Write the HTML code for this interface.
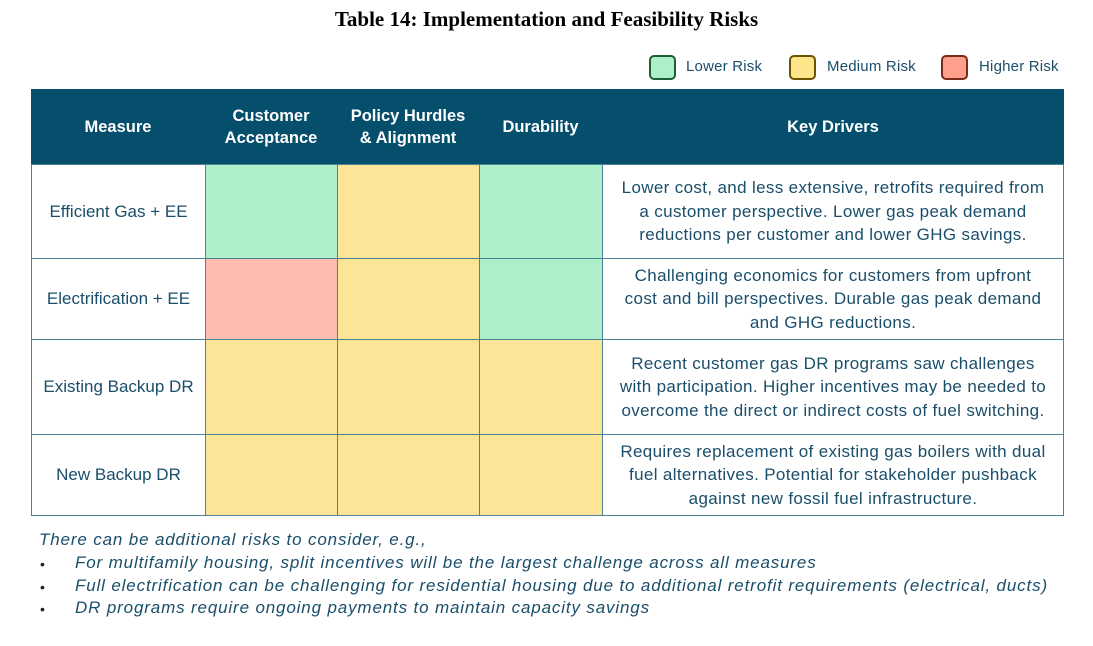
<!DOCTYPE html>
<html><head><meta charset="utf-8"><style>
body{margin:0;width:1093px;height:646px;background:#fff;position:relative;overflow:hidden;font-family:"Liberation Sans",sans-serif;}
.abs{position:absolute;}
#title{left:0;width:1093px;top:7px;text-align:center;font:bold 21px "Liberation Serif",serif;color:#000;}
.lg-box{width:23px;height:21px;border:2px solid;border-radius:5px;top:55px;}
.lg-txt{top:58px;font-size:15px;color:#1a4e6a;white-space:nowrap;letter-spacing:0.2px;}
.hdr{background:#054e6c;color:#fff;font-weight:bold;font-size:16.5px;display:flex;align-items:center;justify-content:center;text-align:center;line-height:22px;}
.cell{border:1px solid #4d8296;box-sizing:border-box;display:flex;align-items:center;justify-content:center;text-align:center;color:#1a4e6a;font-size:17px;line-height:23.5px;white-space:nowrap;}
.drv{letter-spacing:0.35px;}
.note{font-style:italic;font-size:17px;color:#1a4e6a;white-space:nowrap;letter-spacing:0.85px;}
.bul{font-size:14px;color:#222;}
</style></head><body>
<div id="title" class="abs">Table 14: Implementation and Feasibility Risks</div>

<div class="abs lg-box" style="left:649px;background:#acefc8;border-color:#1d5e34"></div>
<div class="abs lg-txt" style="left:686px">Lower Risk</div>
<div class="abs lg-box" style="left:789px;background:#fde58a;border-color:#6b5400"></div>
<div class="abs lg-txt" style="left:827px">Medium Risk</div>
<div class="abs lg-box" style="left:941px;background:#fca08c;border-color:#7a2a1a"></div>
<div class="abs lg-txt" style="left:979px">Higher Risk</div>

<div id="table" class="abs" style="left:0;top:0"></div>

<div class="abs note" style="left:39px;top:530px">There can be additional risks to consider, e.g.,</div>
<div class="abs bul" style="left:40px;top:556px">•</div>
<div class="abs note" style="left:75px;top:553px">For multifamily housing, split incentives will be the largest challenge across all measures</div>
<div class="abs bul" style="left:40px;top:579px">•</div>
<div class="abs note" style="left:75px;top:576px">Full electrification can be challenging for residential housing due to additional retrofit requirements (electrical, ducts)</div>
<div class="abs bul" style="left:40px;top:601px">•</div>
<div class="abs note" style="left:75px;top:598px">DR programs require ongoing payments to maintain capacity savings</div>

<script>
const headers=["Measure","Customer<br>Acceptance","Policy Hurdles<br>&amp; Alignment","Durability","Key Drivers"];
const measures=["Efficient Gas + EE","Electrification + EE","Existing Backup DR","New Backup DR"];
const acceptance=["low","high","medium","medium"];
const policy=["medium","medium","medium","medium"];
const durability=["low","low","medium","medium"];
const drivers=[
"Lower cost, and less extensive, retrofits required from<br>a customer perspective. Lower gas peak demand<br>reductions per customer and lower GHG savings.",
"Challenging economics for customers from upfront<br>cost and bill perspectives. Durable gas peak demand<br>and GHG reductions.",
"Recent customer gas DR programs saw challenges<br>with participation. Higher incentives may be needed to<br>overcome the direct or indirect costs of fuel switching.",
"Requires replacement of existing gas boilers with dual<br>fuel alternatives. Potential for stakeholder pushback<br>against new fossil fuel infrastructure."];
const colX=[31,205,337,479,602,1064];
const rowY=[89,164,258,339,434,515];
const riskColor={low:"#acefc8",medium:"#fde597",high:"#fcbdb0"};
const t=document.getElementById('table');
function box(x,y,w,h,cls,html,bg){const d=document.createElement('div');d.className='abs '+cls;d.style.left=x+'px';d.style.top=y+'px';d.style.width=w+'px';d.style.height=h+'px';if(bg)d.style.background=bg;d.innerHTML=html;t.appendChild(d);return d;}
headers.forEach((h,i)=>{const d=box(colX[i],rowY[0],colX[i+1]-colX[i],rowY[1]-rowY[0],'hdr',h);

});
const riskCols=[acceptance,policy,durability];
measures.forEach((m,r)=>{const y=rowY[r+1],h=rowY[r+2]-y+1;
const mc=box(colX[0],y,colX[1]-colX[0]+1,h,'cell',m);


riskCols.forEach((arr,c)=>{const rc=box(colX[c+1],y,colX[c+2]-colX[c+1]+1,h,'cell','',riskColor[arr[r]]);

});
const dc=box(colX[4],y,colX[5]-colX[4],h,'cell drv',drivers[r]);

});
</script>
</body></html>
